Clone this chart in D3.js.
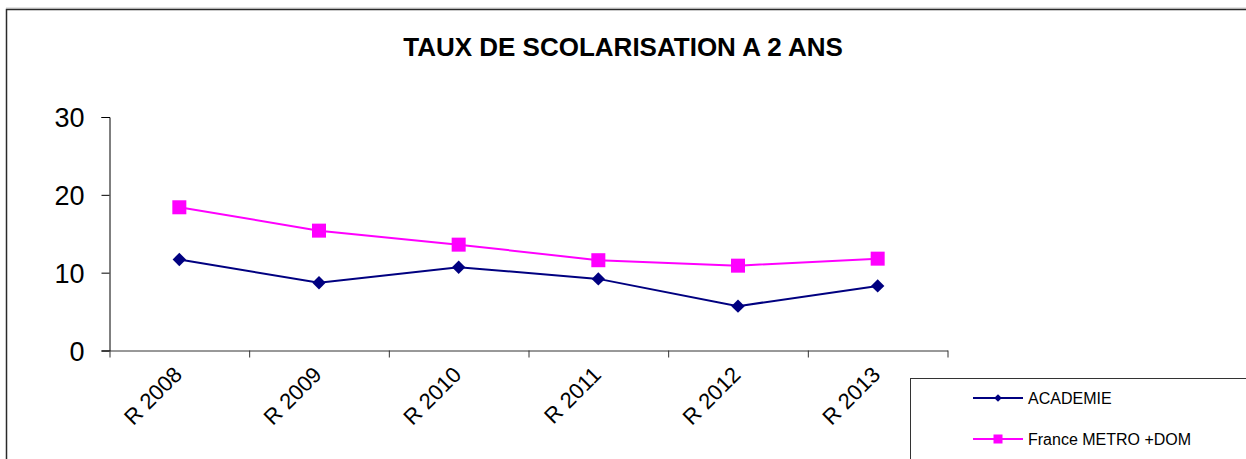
<!DOCTYPE html>
<html><head><meta charset="utf-8">
<script src="https://cdn.jsdelivr.net/npm/d3@7"></script>
<style>
html,body{margin:0;padding:0;background:#fff;overflow:hidden}
svg{display:block;font-family:"Liberation Sans",Arial,sans-serif}
</style></head>
<body>
<svg id="chart" width="1246" height="459"></svg>
<script>
const categories = ["R 2008","R 2009","R 2010","R 2011","R 2012","R 2013"];
const academie = [11.7, 8.7, 10.7, 9.2, 5.7, 8.3];
const france = [18.4, 15.4, 13.6, 11.6, 10.9, 11.8];
const yTicks = [0, 10, 20, 30];
const seriesNames = ["ACADEMIE", "France METRO +DOM"];
const seriesColors = ["#000080", "#FF00FF"];

const svg = d3.select("#chart");

// outer frame
svg.append("line").attr("x1",6).attr("x2",1246).attr("y1",8).attr("y2",8).attr("stroke","#c8c8c8").attr("stroke-width",1);
svg.append("rect").attr("x",6.5).attr("y",9.5).attr("width",1300).attr("height",600)
  .attr("fill","none").attr("stroke","#2a2a2a").attr("stroke-width",1.5);

// title
svg.append("text").attr("x",623).attr("y",56).attr("text-anchor","middle")
  .attr("font-weight","bold").attr("font-size",26).attr("fill","#000")
  .text("TAUX DE SCOLARISATION A 2 ANS");

const pLeft = 109.5, pRight = 947.5, pTop = 117, pBottom = 350.5;
const x = d3.scaleBand().domain(categories).range([pLeft, pRight]).padding(0);
const xb = d3.scaleLinear().domain([0, categories.length]).range([pLeft, pRight]);
const y = d3.scaleLinear().domain([0, 30]).range([pBottom, pTop]);

// y axis
const yAxis = svg.append("g").attr("transform",`translate(${pLeft},0)`)
  .call(d3.axisLeft(y).tickValues(yTicks).tickSize(8).tickPadding(17).tickFormat(d3.format("d")));
yAxis.selectAll("text").attr("font-size",27).attr("fill","#000")
  .attr("font-family","Liberation Sans, Arial, sans-serif").attr("dy","0.36em");
yAxis.selectAll("line,path").attr("stroke","#000");

// x axis with boundary ticks
const xAxis = svg.append("g").attr("transform",`translate(0,${pBottom})`)
  .call(d3.axisBottom(xb).tickValues(d3.range(categories.length+1)).tickSize(7).tickSizeOuter(0).tickFormat(""));
xAxis.selectAll("line,path").attr("stroke","#333");

// x labels
svg.append("g").selectAll("text").data(categories).join("text")
  .attr("transform", d => `translate(${x(d)+x.bandwidth()/2+4},${pBottom+25.5}) rotate(-45)`)
  .attr("text-anchor","end").attr("font-size",22).attr("fill","#000")
  .text(d => d);

const line = d3.line().x((d,i)=>x(categories[i])+x.bandwidth()/2).y(d=>y(d));

// France series
svg.append("path").datum(france).attr("d",line).attr("fill","none").attr("stroke",seriesColors[1]).attr("stroke-width",2);
svg.append("g").selectAll("rect").data(france).join("rect")
  .attr("x",(d,i)=>x(categories[i])+x.bandwidth()/2-7).attr("y",d=>y(d)-7)
  .attr("width",14).attr("height",14).attr("fill",seriesColors[1]);

// Academie series
svg.append("path").datum(academie).attr("d",line).attr("fill","none").attr("stroke",seriesColors[0]).attr("stroke-width",2);
svg.append("g").selectAll("path").data(academie).join("path")
  .attr("d", d3.symbol().type(d3.symbolSquare).size(90)())
  .attr("transform",(d,i)=>`translate(${x(categories[i])+x.bandwidth()/2},${y(d)}) rotate(45)`)
  .attr("fill",seriesColors[0]);

// legend
const lg = svg.append("g");
lg.append("rect").attr("x",910.5).attr("y",378.5).attr("width",400).attr("height",200)
  .attr("fill","#fff").attr("stroke","#333").attr("stroke-width",1);
const ly = [398, 439];
seriesNames.forEach((name,i)=>{
  lg.append("line").attr("x1",973).attr("x2",1023).attr("y1",ly[i]).attr("y2",ly[i])
    .attr("stroke",seriesColors[i]).attr("stroke-width",2);
  if(i===0){
    lg.append("path").attr("d",d3.symbol().type(d3.symbolSquare).size(30)())
      .attr("transform",`translate(998,${ly[i]}) rotate(45)`).attr("fill",seriesColors[i]);
  } else {
    lg.append("rect").attr("x",993.5).attr("y",ly[i]-4.5).attr("width",9).attr("height",9).attr("fill",seriesColors[i]);
  }
  lg.append("text").attr("x",1028).attr("y",ly[i]+5.5).attr("font-size",16).attr("fill","#000").text(name);
});
</script>
</body></html>
